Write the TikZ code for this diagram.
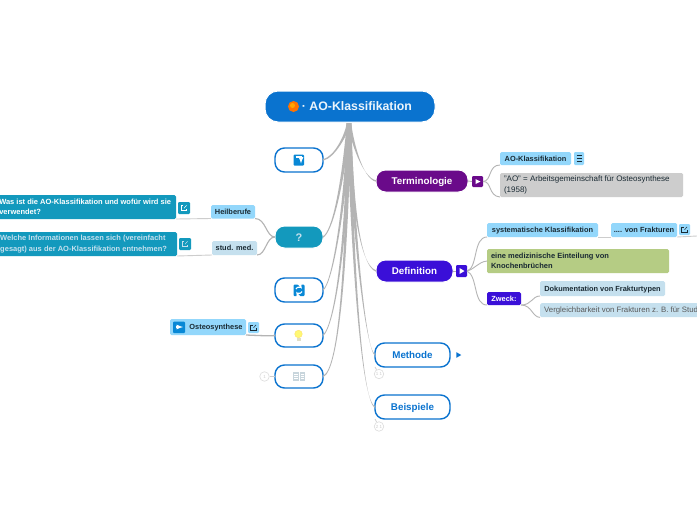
\documentclass[tikz,border=0pt]{standalone}
\usepackage{fontspec}
\setmainfont{Liberation Sans}
\usetikzlibrary{calc,shapes.geometric}
\definecolor{rootblue}{HTML}{0A73CF}
\definecolor{linegray}{HTML}{B4B4B4}
\definecolor{purp}{HTML}{6A0A8A}
\definecolor{teal1}{HTML}{1399BD}
\definecolor{indigo}{HTML}{3A0FD8}
\definecolor{skyb}{HTML}{93D7FB}
\definecolor{paleb}{HTML}{C5E0EE}
\definecolor{greyb}{HTML}{CDCDCD}
\definecolor{greenb}{HTML}{B5CC84}
\definecolor{txtdark}{HTML}{1A2A33}
\tikzset{x=1pt,y=-1pt,
 boxat/.style args={#1/#2/#3/#4}{minimum width=#3-#1,minimum height=#4-#2,inner sep=0pt,outer sep=0pt,anchor=center,at={(#1/2+#3/2,#2/2+#4/2)}},
 topic/.style={rounded corners=9.5pt,draw=rootblue,line width=1.4pt,fill=white,text=rootblue,text height=7.2pt,text depth=0pt,font=\bfseries\fontsize{9.8}{12}\selectfont},
 filled/.style={rounded corners=9.5pt,draw=white,line width=1pt,text=white,text height=7.2pt,text depth=0pt,font=\bfseries\fontsize{9.8}{12}\selectfont},
 leaf/.style={rounded corners=1.5pt,font=\bfseries\fontsize{7.4}{10}\selectfont,text=txtdark},
 oneline/.style={text height=5.3pt,text depth=0pt},
 plainleaf/.style={rounded corners=1.5pt,font=\fontsize{7.8}{10}\selectfont,text=txtdark},
 tag/.style={rounded corners=1.2pt},
 conn/.style={draw=linegray,line width=.9pt},
 badge/.style={circle,draw=greyb!70,line width=.6pt,fill=white,text=greyb,minimum size=9.5pt,inner sep=0pt,font=\fontsize{4.5}{5}\selectfont},
}
% tapered connector from the root
\newcommand{\taperto}[3]{\fill[linegray] ($(rootfoot)+(-2.2,0)$) .. controls ($#1+(-1.1,0)$) and ($#2+(-.3,-.8)$) .. ($#3+(0,-.7)$) -- ($#3+(0,.7)$) .. controls ($#2+(.3,.8)$) and ($#1+(1.1,0)$) .. ($(rootfoot)+(2.2,0)$) -- cycle;}
\begin{document}
\begin{tikzpicture}
\useasboundingbox (0,0) rectangle (697,520);
\clip (0,0) rectangle (697,520);
\fill[white] (0,0) rectangle (697,520);
% nodes
\node[filled,draw=white,fill=rootblue,rounded corners=13pt,boxat=265/91/435/122,text height=8.8pt,font=\bfseries\fontsize{12.3}{14}\selectfont,text=white!92!rootblue] (root) {\hspace{14pt}· AO-Klassifikation};
\coordinate (rootfoot) at (349,123);
\node[topic,boxat=275/148/323/172] (ic1) {};
\node[filled,fill=purp,boxat=376/170/468/192] (term) {Terminologie};
\node[filled,fill=teal1,boxat=275/226/323/248,font=\bfseries\fontsize{11}{14}\selectfont,text=paleb,text height=8pt] (quest) {?};
\node[filled,fill=indigo,boxat=376/260/453/282] (defi) {Definition};
\node[topic,boxat=275/278/323/302] (ic2) {};
\node[topic,boxat=275/324/323/347] (ic3) {};
\node[topic,boxat=275/365/323/388] (ic4) {};
\node[topic,boxat=375/343/450/367] (meth) {Methode};
\node[topic,boxat=375/395/450/419] (beis) {Beispiele};
% root connectors
\taperto{(346,135)}{(335,157)}{(ic1.east)}
\taperto{(352,140)}{(362,178)}{(term.west)}
\taperto{(342,190)}{(332,232)}{(quest.east)}
\taperto{(352,190)}{(358,265)}{(defi.west)}
\taperto{(346,200)}{(333,283)}{(ic2.east)}
\taperto{(347,240)}{(335,325)}{(ic3.east)}
\taperto{(347,250)}{(340,370)}{(ic4.east)}
\taperto{(354,240)}{(366,350)}{(meth.west)}
\taperto{(352,250)}{(361,402)}{(beis.west)}
% left branch
\node[leaf,oneline,fill=skyb,boxat=211/205/255/218.5] (heil) {Heilberufe};
\node[leaf,oneline,fill=paleb,boxat=212/241/257/255] (stud) {stud. med.};
\node[leaf,fill=teal1,text=white,boxat=-2/195/176/219] (wasist) {\hspace{.5pt}\parbox{176pt}{\raggedright\fontsize{7.5}{10.5}\selectfont Was ist die AO-Klassifikation und wofür wird sie\\ verwendet?}};
\node[leaf,fill=teal1,text=paleb,boxat=-2/232/177/256] (welche) {\hspace{1.5pt}\parbox{176pt}{\raggedright\fontsize{7.5}{10.5}\selectfont Welche Informationen lassen sich (vereinfacht\\ gesagt) aus der AO-Klassifikation entnehmen?}};
\node[tag,fill=teal1,boxat=178/202/190/214] (was2) {};
\node[tag,fill=teal1,boxat=179/238/191/250] (wel2) {};
\draw[conn,line width=1.1pt] (quest.west) .. controls (266,237) and (266,218.5) .. (heil.south east);
\draw[conn,line width=1.1pt] (quest.west) .. controls (266,237) and (266,255) .. (stud.south east);
\draw[conn,draw=greyb] (heil.south west) -- (wasist.south east);
\draw[conn,draw=greyb] (stud.south west) -- (welche.south east);
% osteosynthese
\node[leaf,oneline,fill=skyb,boxat=170/319/246/335] (osteo) {\hspace{16pt}Osteosynthese};
\node[tag,fill=skyb,boxat=248/322/259/333] (ost2) {};
\draw[linegray,line width=1.3pt] (ic3.west) .. controls (270,336) .. (osteo.south east);
% badges
\node[badge] (b1) at (264.5,376.5) {1};
\draw[greyb,line width=.7pt] (b1) -- (ic4.west);
\node[badge] (b2) at (379,374) {1 1};
\draw[greyb,line width=.7pt] (b2) -- (meth.south west);
\node[badge] (b3) at (379,426.5) {2 1};
\draw[greyb,line width=.7pt] (b3) -- (beis.south west);
\node[regular polygon,regular polygon sides=3,shape border rotate=-90,fill=rootblue,minimum size=6.5pt,inner sep=0pt] (mtri) at (458,355) {};
% terminologie
\node[tag,fill=purp,boxat=472/176/483/187] (termtag) {};
\fill[white] (475.5,179) -- (480.5,181.5) -- (475.5,184) -- cycle;
\draw[conn] (term.east) -- (termtag.west);
\node[leaf,oneline,fill=skyb,boxat=500/152/571/165] (aok) {AO-Klassifikation};
\node[tag,fill=skyb,boxat=574/152/584/165] (aol) {};
\draw[txtdark,line width=.6pt] (576.5,155.5) -- (581.5,155.5) (576.5,158.5) -- (581.5,158.5) (576.5,161.5) -- (581.5,161.5);
\node[plainleaf,fill=greyb,boxat=500/173/683/197] (aotxt) {\parbox{175pt}{\raggedright\fontsize{8}{10.5}\selectfont "AO" = Arbeitsgemeinschaft für Osteosynthese\\ (1958)}};
\draw[conn] (termtag.east) .. controls (492,181) and (488,165) .. (aok.south west);
\draw[conn] (termtag.east) .. controls (492,181) and (488,196) .. (aotxt.south west);
% definition
\node[tag,fill=indigo,boxat=456/265/467/277] (deftag) {};
\fill[white] (459.5,268) -- (464.5,271) -- (459.5,274) -- cycle;
\draw[conn] (defi.east) -- (deftag.west);
\node[leaf,oneline,fill=skyb,boxat=487/223/598/237] (sys) {systematische Klassifikation};
\node[leaf,oneline,fill=skyb,boxat=611/223/677/237] (frak) {.... von Frakturen};
\node[tag,fill=skyb,boxat=679/224/690/235] (frak2) {};
\coordinate (fend) at (697,236);
\draw[conn,draw=greyb] (sys.south east) -- (frak.south west);
\draw[conn,draw=greyb] (frak.south east) -- (fend);
\node[leaf,fill=greenb,boxat=487/249/669/273] (grn) {\parbox{174pt}{\raggedright\fontsize{7.5}{10.5}\selectfont eine medizinische Einteilung von\\ Knochenbrüchen}};
\node[leaf,oneline,fill=indigo,text=white,boxat=487/292/521/305] (zw) {Zweck:};
\draw[conn] (deftag.east) .. controls (478,268) and (473,237) .. (sys.south west);
\draw[conn] (deftag.east) .. controls (475,269) and (478,262) .. (grn.west);
\draw[conn] (deftag.east) .. controls (478,276) and (473,305) .. (zw.south west);
\node[leaf,oneline,fill=paleb,boxat=540/281/665/296] (doku) {Dokumentation von Frakturtypen};
\node[plainleaf,fill=paleb,anchor=north west,minimum height=14pt,inner sep=0pt,text=black!65,text height=5.5pt,text depth=0pt,at={(540,303)}] (verg) {\hspace{4pt}Vergleichbarkeit von Frakturen z. B. für Stud\hspace{12pt}};
\draw[conn] (zw.south east) .. controls (532,305) and (532,296) .. (doku.south west);
\draw[conn] (zw.south east) .. controls (532,305) and (532,317) .. (verg.south west);
% root bullet
\fill[orange!90!red] (293.5,106.5) circle (5.5pt);
\fill[orange!70!yellow] (292.5,105.5) circle (2.5pt);
% arrow icon box
\fill[rootblue!85!cyan,rounded corners=1pt] (293.5,154.5) rectangle (304,165.5);
\draw[white,line width=1.2pt,-latex] (295.5,157) -- (301,157) -- (301,163.5);
% refresh icon
\fill[rootblue!85!cyan,rounded corners=1pt] (293.5,284.5) rectangle (304.5,296);
\draw[white,line width=1.1pt,-latex] (296,289) arc[start angle=160,end angle=20,radius=3pt];
\draw[white,line width=1.1pt,-latex] (302,291.5) arc[start angle=-20,end angle=-160,radius=3pt];
% bulb
\fill[yellow!55!white,draw=yellow!60!orange!60,line width=.3pt] (298.5,334) circle (3.8pt);
\fill[yellow!30!gray!40] (296.5,337.5) rectangle (300.5,341);
% book
\fill[paleb!70!gray!70] (293,372) rectangle (298.5,381);
\fill[paleb!70!gray!70] (299.5,372) rectangle (305,381);
\draw[white,line width=.4pt] (294,374.5) -- (297.5,374.5) (294,376.5) -- (297.5,376.5) (294,378.5) -- (297.5,378.5) (300.5,374.5) -- (304,374.5) (300.5,376.5) -- (304,376.5) (300.5,378.5) -- (304,378.5);
% arrow in osteosynthese
\fill[rootblue!85!cyan,rounded corners=1pt] (173,321.5) rectangle (185,333);
\draw[white,line width=1.2pt,-latex] (175.5,327) -- (183,327);
% open-link glyphs
\foreach \n/\c in {was2/white,wel2/paleb,ost2/txtdark,frak2/txtdark}{
 \draw[\c,line width=.5pt] ($(\n.center)+(-1,-2.5)$) -- ($(\n.center)+(-2.8,-2.5)$) -- ($(\n.center)+(-2.8,2.5)$) -- ($(\n.center)+(2.5,2.5)$) -- ($(\n.center)+(2.5,.8)$);
 \draw[\c,line width=.5pt] ($(\n.center)+(0,.2)$) -- ($(\n.center)+(2.6,-2.6)$);
}
\end{tikzpicture}
\end{document}
